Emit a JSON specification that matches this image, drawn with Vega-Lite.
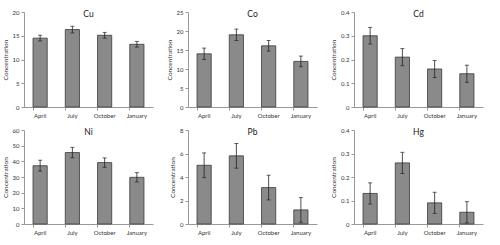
{
  "$schema": "https://vega.github.io/schema/vega-lite/v6.json",
  "background": "white",
  "padding": {"left": 2, "top": 9, "right": 4, "bottom": 2},
  "datasets": {
    "d": [
      {"metal": "Cu", "month": "April", "value": 14.5, "err": 0.6},
      {"metal": "Cu", "month": "July", "value": 16.3, "err": 0.7},
      {"metal": "Cu", "month": "October", "value": 15.1, "err": 0.6},
      {"metal": "Cu", "month": "January", "value": 13.2, "err": 0.6},
      {"metal": "Co", "month": "April", "value": 14.0, "err": 1.5},
      {"metal": "Co", "month": "July", "value": 19.0, "err": 1.5},
      {"metal": "Co", "month": "October", "value": 16.1, "err": 1.4},
      {"metal": "Co", "month": "January", "value": 12.0, "err": 1.4},
      {"metal": "Cd", "month": "April", "value": 0.30, "err": 0.035},
      {"metal": "Cd", "month": "July", "value": 0.21, "err": 0.036},
      {"metal": "Cd", "month": "October", "value": 0.16, "err": 0.036},
      {"metal": "Cd", "month": "January", "value": 0.14, "err": 0.036},
      {"metal": "Ni", "month": "April", "value": 37.2, "err": 3.5},
      {"metal": "Ni", "month": "July", "value": 45.6, "err": 3.3},
      {"metal": "Ni", "month": "October", "value": 39.2, "err": 3.0},
      {"metal": "Ni", "month": "January", "value": 29.8, "err": 3.0},
      {"metal": "Pb", "month": "April", "value": 5.0, "err": 1.05},
      {"metal": "Pb", "month": "July", "value": 5.8, "err": 1.05},
      {"metal": "Pb", "month": "October", "value": 3.1, "err": 1.05},
      {"metal": "Pb", "month": "January", "value": 1.2, "err": 1.05},
      {"metal": "Hg", "month": "April", "value": 0.13, "err": 0.045},
      {"metal": "Hg", "month": "July", "value": 0.26, "err": 0.045},
      {"metal": "Hg", "month": "October", "value": 0.09, "err": 0.045},
      {"metal": "Hg", "month": "January", "value": 0.05, "err": 0.045}
    ]
  },
  "config": {
    "font": "Lato",
    "view": {"stroke": null},
    "axis": {"labelFont": "Lato", "titleFont": "Lato", "labelFontSize": 6, "titleFontSize": 6.5, "titleFontWeight": "normal", "labelColor": "#333", "titleColor": "#333", "domainColor": "#999", "tickColor": "#999", "tickSize": 3, "grid": false, "labelOverlap": false},
    "title": {"font": "Lato", "fontSize": 8.5, "fontWeight": "normal", "color": "#222", "offset": -9},
    "bar": {"color": "#8a8a8a", "stroke": "#3a3a3a", "strokeWidth": 0.8}
  },
  "columns": 3,
  "spacing": {"row": 9, "column": 13},
  "concat": [
    {
      "title": "Cu", "width": 129, "height": 95,
      "data": {"name": "d"}, "transform": [{"filter": "datum.metal === 'Cu'"}],
      "encoding": {
        "x": {"field": "month", "type": "nominal", "sort": null, "title": null, "scale": {"paddingInner": 0.56, "paddingOuter": 0.28}, "axis": {"labelAngle": 0, "bandPosition": 0}},
        "y": {"field": "value", "type": "quantitative", "title": "Concentration", "scale": {"domain": [0, 20]}, "axis": {"values": [0, 5, 10, 15, 20], "format": ".2~f"}}
      },
      "layer": [
        {"mark": "bar"},
        {"mark": {"type": "errorbar", "ticks": {"size": 4, "color": "#222"}, "rule": {"color": "#222", "strokeWidth": 0.8}}, "encoding": {"yError": {"field": "err"}}}
      ]
    },
    {
      "title": "Co", "width": 129, "height": 95,
      "data": {"name": "d"}, "transform": [{"filter": "datum.metal === 'Co'"}],
      "encoding": {
        "x": {"field": "month", "type": "nominal", "sort": null, "title": null, "scale": {"paddingInner": 0.56, "paddingOuter": 0.28}, "axis": {"labelAngle": 0, "bandPosition": 0}},
        "y": {"field": "value", "type": "quantitative", "title": "Concentration", "scale": {"domain": [0, 25]}, "axis": {"values": [0, 5, 10, 15, 20, 25], "format": ".2~f"}}
      },
      "layer": [
        {"mark": "bar"},
        {"mark": {"type": "errorbar", "ticks": {"size": 4, "color": "#222"}, "rule": {"color": "#222", "strokeWidth": 0.8}}, "encoding": {"yError": {"field": "err"}}}
      ]
    },
    {
      "title": "Cd", "width": 129, "height": 95,
      "data": {"name": "d"}, "transform": [{"filter": "datum.metal === 'Cd'"}],
      "encoding": {
        "x": {"field": "month", "type": "nominal", "sort": null, "title": null, "scale": {"paddingInner": 0.56, "paddingOuter": 0.28}, "axis": {"labelAngle": 0, "bandPosition": 0}},
        "y": {"field": "value", "type": "quantitative", "title": "Concentration", "scale": {"domain": [0, 0.4]}, "axis": {"values": [0, 0.1, 0.2, 0.3, 0.4], "format": ".2~f"}}
      },
      "layer": [
        {"mark": "bar"},
        {"mark": {"type": "errorbar", "ticks": {"size": 4, "color": "#222"}, "rule": {"color": "#222", "strokeWidth": 0.8}}, "encoding": {"yError": {"field": "err"}}}
      ]
    },
    {
      "title": "Ni", "width": 129, "height": 94,
      "data": {"name": "d"}, "transform": [{"filter": "datum.metal === 'Ni'"}],
      "encoding": {
        "x": {"field": "month", "type": "nominal", "sort": null, "title": null, "scale": {"paddingInner": 0.56, "paddingOuter": 0.28}, "axis": {"labelAngle": 0, "bandPosition": 0}},
        "y": {"field": "value", "type": "quantitative", "title": "Concentration", "scale": {"domain": [0, 60]}, "axis": {"values": [0, 10, 20, 30, 40, 50, 60], "format": ".2~f"}}
      },
      "layer": [
        {"mark": "bar"},
        {"mark": {"type": "errorbar", "ticks": {"size": 4, "color": "#222"}, "rule": {"color": "#222", "strokeWidth": 0.8}}, "encoding": {"yError": {"field": "err"}}}
      ]
    },
    {
      "title": "Pb", "width": 129, "height": 94,
      "data": {"name": "d"}, "transform": [{"filter": "datum.metal === 'Pb'"}],
      "encoding": {
        "x": {"field": "month", "type": "nominal", "sort": null, "title": null, "scale": {"paddingInner": 0.56, "paddingOuter": 0.28}, "axis": {"labelAngle": 0, "bandPosition": 0}},
        "y": {"field": "value", "type": "quantitative", "title": "Concentration", "scale": {"domain": [0, 8]}, "axis": {"values": [0, 2, 4, 6, 8], "format": ".2~f"}}
      },
      "layer": [
        {"mark": "bar"},
        {"mark": {"type": "errorbar", "ticks": {"size": 4, "color": "#222"}, "rule": {"color": "#222", "strokeWidth": 0.8}}, "encoding": {"yError": {"field": "err"}}}
      ]
    },
    {
      "title": "Hg", "width": 129, "height": 94,
      "data": {"name": "d"}, "transform": [{"filter": "datum.metal === 'Hg'"}],
      "encoding": {
        "x": {"field": "month", "type": "nominal", "sort": null, "title": null, "scale": {"paddingInner": 0.56, "paddingOuter": 0.28}, "axis": {"labelAngle": 0, "bandPosition": 0}},
        "y": {"field": "value", "type": "quantitative", "title": "Concentration", "scale": {"domain": [0, 0.4]}, "axis": {"values": [0, 0.1, 0.2, 0.3, 0.4], "format": ".2~f"}}
      },
      "layer": [
        {"mark": "bar"},
        {"mark": {"type": "errorbar", "ticks": {"size": 4, "color": "#222"}, "rule": {"color": "#222", "strokeWidth": 0.8}}, "encoding": {"yError": {"field": "err"}}}
      ]
    }
  ]
}
